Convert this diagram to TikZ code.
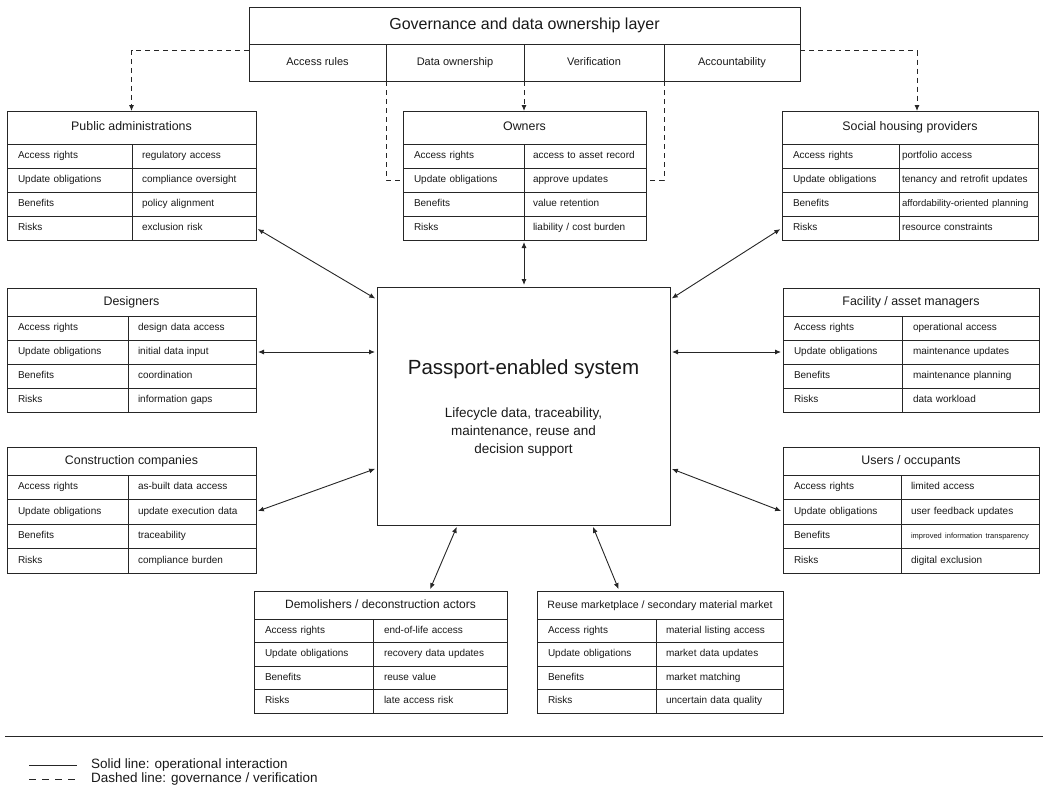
\documentclass[tikz,border=0pt]{standalone}
\usepackage{fontspec}
\setmainfont{Liberation Sans}
\usetikzlibrary{positioning,arrows.meta}

% #1 name, #2 top left corner, #3 key width, #4 value width,
% #5 title height, #6 row height, #7 value inset, #8 title, #9 rows
\newcommand{\actortable}[9]{%
  \pgfmathsetlengthmacro{\keytw}{#3-22}%
  \pgfmathsetlengthmacro{\valtw}{#4-2*#7}%
  \node[titlecell, minimum width={#3+#4}, minimum height=#5, anchor=north west] (#1) at #2 {#8};
  \foreach \k/\v [count=\i] in {#9} {
    \node[keycell, text width=\keytw, minimum height=#6, anchor=north west, yshift={-#6*(\i-1)}]
      (#1-k\i) at (#1.south west) {\k};
    \node[valcell, text width=\valtw, inner xsep=#7, minimum height=#6, right=0pt of #1-k\i]
      (#1-v\i) {\v};
  }%
}

\begin{document}
\begin{tikzpicture}
    [
    x=1pt, y=-1pt,
    titlecell/.style={draw=black!85, line width=0.9pt, inner sep=0pt, outer sep=0pt, text height=9pt, text depth=3pt, text=black!90, font=\fontsize{12.4}{15}\selectfont},
    keycell/.style={draw=black!85, line width=0.9pt, inner xsep=11pt, inner ysep=0pt, outer sep=0pt, text height=7.5pt, text depth=2.5pt, align=left, text=black!90, font=\fontsize{10}{12}\selectfont},
    valcell/.style={draw=black!85, line width=0.9pt, inner ysep=0pt, outer sep=0pt, text height=7.5pt, text depth=2.5pt, align=left, text=black!90, font=\fontsize{10}{12}\selectfont},
    govcell/.style={draw=black!85, line width=0.9pt, inner sep=0pt, outer sep=0pt, minimum height=37, text height=8pt, text depth=2.5pt, text=black!90, font=\fontsize{11}{13}\selectfont},
    sysbox/.style={draw=black!85, line width=0.9pt, inner sep=0pt, outer sep=0pt, minimum width=293, minimum height=238},
    flow/.style={{Latex[length=6pt,width=5pt]}-{Latex[length=6pt,width=5pt]}, line width=0.9pt, draw=black!85, shorten >=2pt, shorten <=2pt},
    govflow/.style={-{Latex[length=6pt,width=5pt]}, line width=0.9pt, draw=black!85, dash pattern=on 5pt off 4pt},
    legendtext/.style={inner sep=0pt, text=black!90, font=\fontsize{13.5}{15}\selectfont}
    ]
    \useasboundingbox (0,0) rectangle (1044,808);

    % governance layer
    \node[titlecell, minimum width=551, minimum height=37, anchor=north west, text height=11.5pt, text depth=4pt, font=\fontsize{16}{19}\selectfont] (gov) at (249,7) {Governance and data ownership layer};
    \node[govcell, minimum width=137, anchor=north west] (gov-c1) at (gov.south west) {Access rules};
    \node[govcell, minimum width=138, right=0pt of gov-c1] (gov-c2) {Data ownership};
    \node[govcell, minimum width=140, right=0pt of gov-c2] (gov-c3) {Verification};
    \node[govcell, minimum width=136, right=0pt of gov-c3] (gov-c4) {Accountability};

    % central system
    \node[sysbox] (sys) at (523.5,406) {};
    \node[text=black!90, font=\fontsize{20.5}{24}\selectfont] (sys-title) at (523.5,369) {Passport-enabled system};
    \node[align=center, text=black!90, font=\fontsize{13.5}{18}\selectfont] (sys-text) at (523.5,432) {Lifecycle data, traceability,\\maintenance, reuse and\\decision support};

    % actors
    \actortable{pub}{(7,111)}{125}{124}{33}{24}{10}{Public administrations}
      {Access rights/regulatory access, Update obligations/compliance oversight, Benefits/policy alignment, Risks/exclusion risk}
    \actortable{own}{(403,111)}{121}{122}{33}{24}{9}{Owners}
      {Access rights/access to asset record, Update obligations/approve updates, Benefits/value retention, Risks/{liability / cost burden}}
    \actortable{soc}{(782,111)}{117}{139}{33}{24}{3}{Social housing providers}
      {Access rights/portfolio access, Update obligations/tenancy and retrofit updates, Benefits/{\fontsize{9.6}{11}\selectfont affordability-oriented planning}, Risks/resource constraints}
    \actortable{des}{(7,288)}{121}{128}{28}{24}{10}{Designers}
      {Access rights/design data access, Update obligations/initial data input, Benefits/coordination, Risks/information gaps}
    \actortable{con}{(7,447)}{121}{128}{28}{24.5}{10}{Construction companies}
      {Access rights/as-built data access, Update obligations/update execution data, Benefits/traceability, Risks/compliance burden}
    \actortable{fac}{(783,288)}{119}{137}{28}{24}{11}{Facility / asset managers}
      {Access rights/operational access, Update obligations/maintenance updates, Benefits/maintenance planning, Risks/data workload}
    \actortable{usr}{(783,447)}{118}{138}{28}{24.5}{10}{Users / occupants}
      {Access rights/limited access, Update obligations/user feedback updates, Benefits/{\fontsize{7.5}{9}\selectfont improved information transparency}, Risks/digital exclusion}
    \actortable{dem}{(254,591)}{119}{134}{28}{23.5}{11}{{\fontsize{12}{14}\selectfont Demolishers / deconstruction actors}}
      {Access rights/end-of-life access, Update obligations/recovery data updates, Benefits/reuse value, Risks/late access risk}
    \actortable{reu}{(537,591)}{119}{127}{28}{23.5}{10}{{\fontsize{10.6}{13}\selectfont Reuse marketplace / secondary material market}}
      {Access rights/material listing access, Update obligations/market data updates, Benefits/market matching, Risks/uncertain data quality}

    % governance connectors
    \draw[govflow] (gov-c1.170) -| (pub.north);
    \draw[govflow] (gov-c4.10) -| ([xshift=7pt]soc.north);
    \draw[govflow] (gov-c2.south east) -- (gov-c2.south east |- own.north);
    \draw[govflow, -] (gov-c1.south east) |- (own-k2.west);
    \draw[govflow, -] (gov-c3.south east) |- (own-v2.east);

    % operational connectors
    \draw[flow] (pub-v4.east) -- (sys.144);
    \draw[flow] (des-v2.east) -- (des-v2.east -| sys.west);
    \draw[flow] (con-v2.east) -- (sys.203);
    \draw[flow] (own-k4.south east) -- (own-k4.south east |- sys.north);
    \draw[flow] (soc-k4.west) -- (sys.36);
    \draw[flow] (fac-k2.west) -- (fac-k2.west -| sys.east);
    \draw[flow] (usr-k2.west) -- (sys.-23);
    \draw[flow] (sys.241) -- (dem.16);
    \draw[flow] (sys.300) -- (reu.161);

    % legend
    \draw[line width=0.9pt, black!85] (5,736) -- (1043,736);
    \node[legendtext, anchor=west] (solid-text) at (91,765) {Solid line: operational interaction};
    \node[legendtext, anchor=west] (dashed-text) at (91,779) {Dashed line: governance / verification};
    \draw[line width=0.9pt, black!85] ([xshift=-62pt]solid-text.west) -- ([xshift=-14pt]solid-text.west);
    \draw[line width=0.9pt, black!85, dash pattern=on 7pt off 6pt] ([xshift=-62pt]dashed-text.west) -- ([xshift=-14pt]dashed-text.west);
  \end{tikzpicture}
\end{document}
